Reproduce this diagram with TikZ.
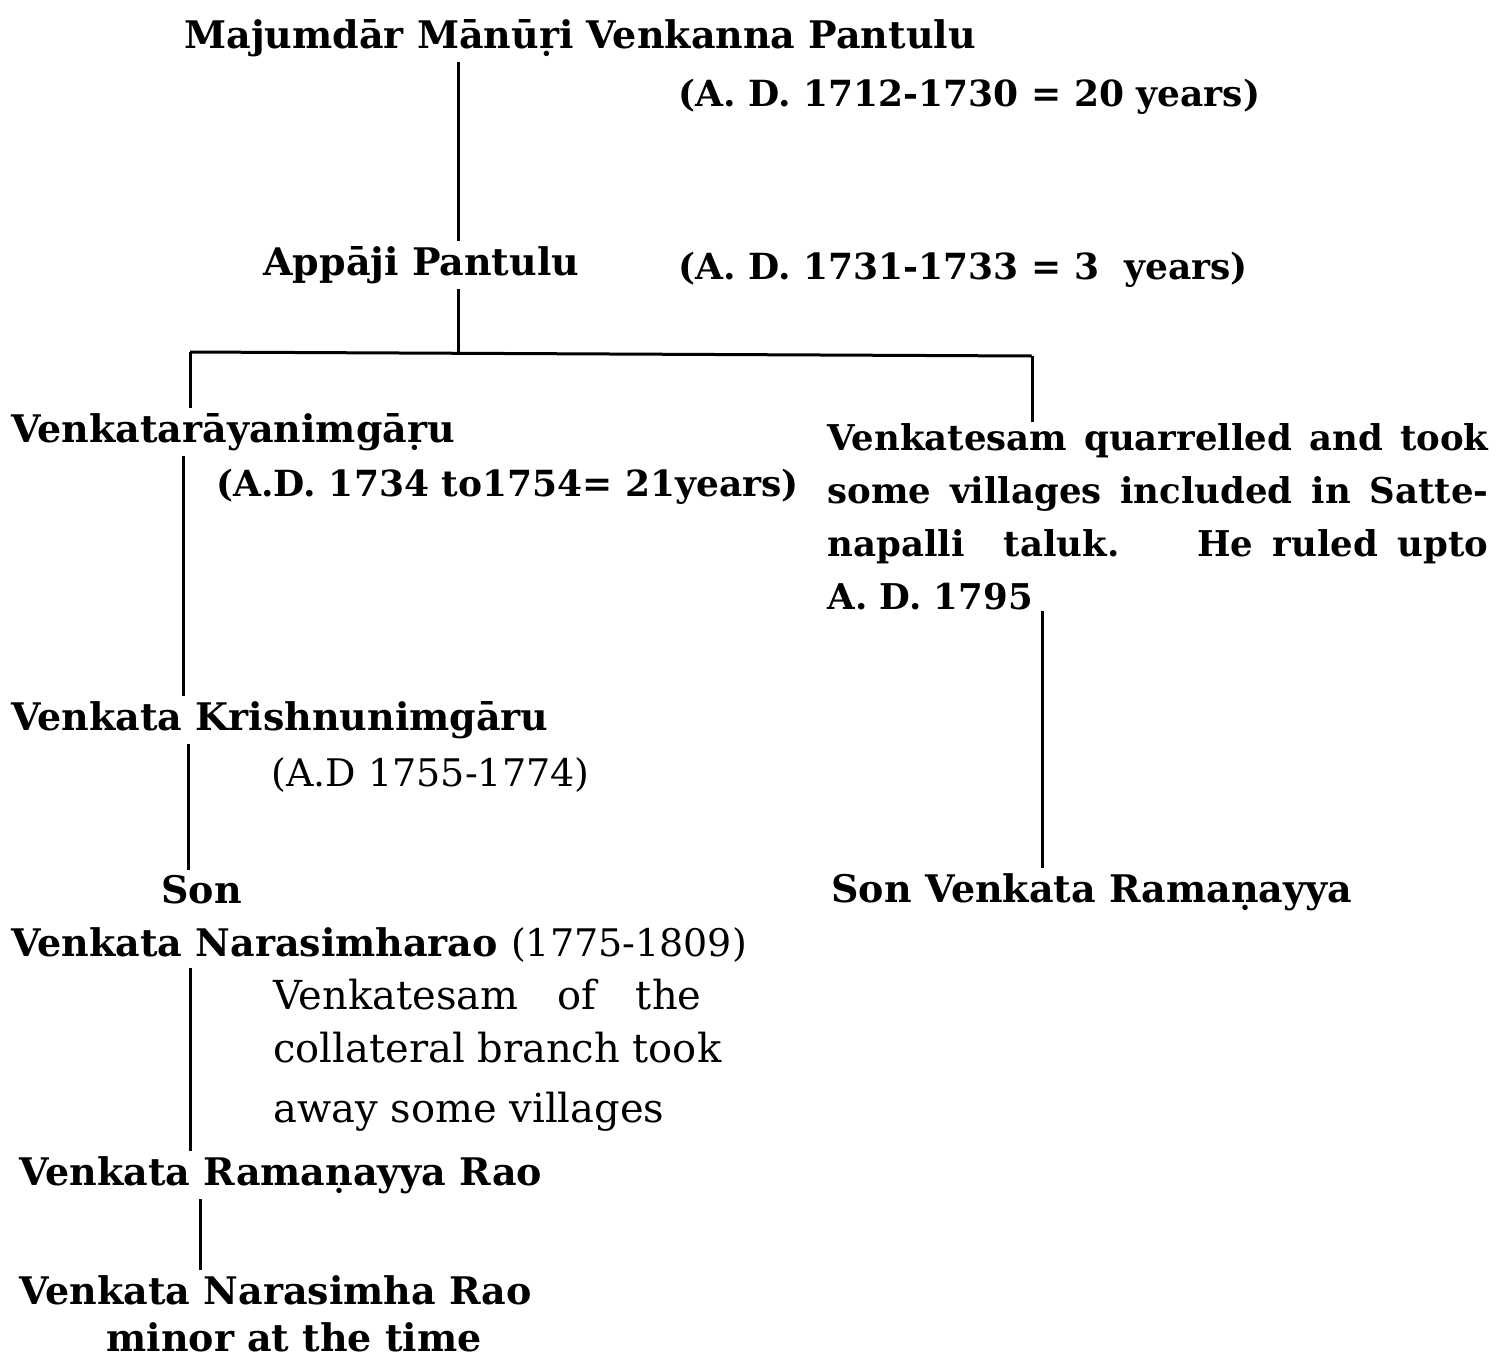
\documentclass[tikz,border=0pt]{standalone}
\usepackage{fontspec}
\setmainfont{DejaVu Serif}
\usepackage{tikz}

\begin{document}
\begin{tikzpicture}[x=1pt, y=-1pt, line width=3pt,
  name node/.style={anchor=west, inner xsep=0pt, inner ysep=4pt, font=\bfseries\fontsize{38}{53}\selectfont},
  date node/.style={name node, font=\bfseries\fontsize{36}{53}\selectfont},
  note node/.style={anchor=north west, inner sep=0pt, align=left, font=\fontsize{40}{53}\selectfont}]
\useasboundingbox (0,0) rectangle (1497,1358);
% the main line
\node[name node] (maj) at (183,38) {Majumdār Mānūṛi Venkanna Pantulu};
\node[date node] (d1) at (677,97) {(A. D. 1712-1730 = 20 years)};
\node[name node] (appaji) at (262,265) {Appāji Pantulu};
\node[date node] (d2) at (677,270) {(A. D. 1731-1733 = 3\ \ years)};
\node[name node] (vray) at (10,432) {Venkatarāyanimgāṛu};
\node[date node] (d3) at (215,487) {(A.D. 1734 to1754= 21years)};
\node[name node] (vkrish) at (10,720) {Venkata Krishnunimgāru};
\node[date node, font=\fontsize{38}{53}\selectfont] (d4) at (270,775) {(A.D 1755-1774)};
\node[name node] (son) at (160,890) {Son};
\node[name node] (nrao) at (10,945) {Venkata Narasimharao {\mdseries(1775-1809)}};
\node[note node] (collat) at (272,978) {\makebox[428pt][s]{Venkatesam of the}\\
  collateral branch took\\[7pt]
  away some villages};
\node[name node] (vrr) at (18,1175) {Venkata Ramaṇayya Rao};
\node[name node] (vnr) at (18,1290) {Venkata Narasimha Rao};
\node[name node, inner ysep=0pt] (minor) at (105,1337) {minor at the time};
% the collateral branch
\node[note node, font=\bfseries\fontsize{35.5}{53}\selectfont] (quarrel) at (826,422) {%
  \makebox[661pt][s]{Venkatesam quarrelled and took}\\
  \makebox[661pt][s]{some villages included in Satte-}\\
  \makebox[661pt][s]{napalli \ taluk. \ \ He ruled upto}\\
  A. D. 1795};
\node[name node] (sonr) at (830,892) {Son Venkata Ramaṇayya};
% connectors
\coordinate (forkL) at (190,352);
\coordinate (forkR) at (1032,356);
\draw ([xshift=275pt]maj.south west) -- ([xshift=196pt]appaji.north west);
\draw ([xshift=196pt]appaji.south west) -- ([xshift=196pt]appaji.south west |- forkL);
\draw (forkL) -- (forkR);
\draw (forkL) -- (forkL |- vray.north);
\draw (forkR) -- (forkR |- quarrel.north);
\draw ([xshift=173pt]vray.south west) -- ([xshift=173pt]vkrish.north west);
\draw ([xshift=216pt]quarrel.south west) -- ([xshift=212pt]sonr.north west);
\draw ([xshift=178pt]vkrish.south west) -- ([xshift=28pt]son.north west);
\draw ([xshift=180pt]nrao.south west) -- ([xshift=172pt]vrr.north west);
\draw ([xshift=182pt]vrr.south west) -- ([xshift=182pt]vnr.north west);
\end{tikzpicture}
\end{document}
